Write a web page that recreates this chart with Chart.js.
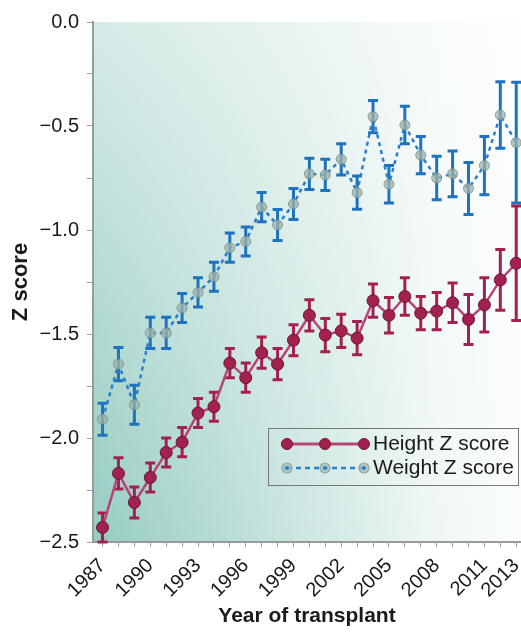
<!DOCTYPE html>
<html>
<head>
<meta charset="utf-8">
<script src="https://cdn.jsdelivr.net/npm/chart.js@4/dist/chart.umd.min.js"></script>
<style>
html,body{margin:0;padding:0;background:#fff;}
#wrap{width:521px;height:633px;position:relative;}
</style>
</head>
<body>
<div id="wrap"><canvas id="c" width="521" height="633"></canvas></div>
<script>
const years = [1987,1988,1989,1990,1991,1992,1993,1994,1995,1996,1997,1998,1999,2000,2001,2002,2003,2004,2005,2006,2007,2008,2009,2010,2011,2012,2013];
const heightZ = [-2.43,-2.17,-2.31,-2.19,-2.07,-2.02,-1.88,-1.85,-1.64,-1.71,-1.59,-1.645,-1.53,-1.41,-1.505,-1.485,-1.52,-1.34,-1.41,-1.32,-1.40,-1.39,-1.35,-1.43,-1.36,-1.24,-1.16];
const heightErr = [0.07,0.075,0.075,0.07,0.07,0.07,0.07,0.07,0.07,0.07,0.075,0.075,0.075,0.075,0.08,0.08,0.08,0.08,0.085,0.09,0.08,0.09,0.095,0.12,0.13,0.146,0.275];
const weightZ = [-1.91,-1.645,-1.84,-1.495,-1.495,-1.375,-1.30,-1.225,-1.085,-1.055,-0.89,-0.976,-0.875,-0.73,-0.735,-0.66,-0.82,-0.455,-0.78,-0.495,-0.64,-0.75,-0.73,-0.80,-0.69,-0.447,-0.58];
const weightErr = [0.077,0.08,0.094,0.075,0.075,0.07,0.07,0.07,0.07,0.07,0.07,0.075,0.075,0.075,0.075,0.075,0.08,0.078,0.09,0.09,0.09,0.105,0.11,0.125,0.14,0.16,0.29];
const xTickLabels = [1987,1990,1993,1996,1999,2002,2005,2008,2011,2013];
const yTickLabels = [0,-0.5,-1.0,-1.5,-2.0,-2.5];

const FONT = "'Liberation Sans', Arial, sans-serif";

const bgPlugin = {
  id:'bg',
  beforeDraw(chart){
    const {ctx, chartArea:a} = chart;
    const w = a.right-a.left, h = a.bottom-a.top;
    ctx.save();
    ctx.fillStyle = '#fbfdfd';
    ctx.fillRect(a.left, a.top, w, h);
    const g = ctx.createLinearGradient(a.left, 0, a.right, 0);
    g.addColorStop(0, 'rgba(150,204,194,1)');
    g.addColorStop(0.45, 'rgba(150,204,194,0.5)');
    g.addColorStop(0.8, 'rgba(150,204,194,0.12)');
    g.addColorStop(1, 'rgba(150,204,194,0)');
    ctx.fillStyle = g;
    ctx.fillRect(a.left, a.top, w, h);
    const v = ctx.createLinearGradient(0, a.top, 0, a.bottom);
    v.addColorStop(0, 'rgba(255,255,255,0.6)');
    v.addColorStop(1, 'rgba(255,255,255,0)');
    ctx.fillStyle = v;
    ctx.fillRect(a.left, a.top, w, h);
    ctx.restore();
  }
};

const errPlugin = {
  id:'err',
  beforeDatasetsDraw(chart){
    const ctx = chart.ctx;
    const xs = chart.scales.x, ys = chart.scales.y;
    const sets = [[weightZ, weightErr, '#1f72bd'],[heightZ, heightErr, '#a3214f']];
    ctx.save();
    for (const [vals, errs, col] of sets){
      ctx.strokeStyle = col;
      ctx.lineWidth = 3;
      for (let i=0;i<years.length;i++){
        const x = xs.getPixelForValue(years[i]);
        const y1 = ys.getPixelForValue(vals[i]+errs[i]);
        const y2 = ys.getPixelForValue(vals[i]-errs[i]);
        ctx.beginPath();
        ctx.moveTo(x,y1); ctx.lineTo(x,y2);
        ctx.moveTo(x-5,y1); ctx.lineTo(x+5,y1);
        ctx.moveTo(x-5,y2); ctx.lineTo(x+5,y2);
        ctx.stroke();
      }
    }
    ctx.restore();
  }
};

const legendPlugin = {
  id:'legbox',
  afterDraw(chart){
    const ctx = chart.ctx;
    const x0 = 268, y0 = 428, w = 250, h = 57;
    ctx.save();
    ctx.strokeStyle = '#777';
    ctx.lineWidth = 1;
    ctx.strokeRect(x0+0.5, y0+0.5, w, h);
    const ly1 = y0+16, ly2 = y0+40;
    ctx.strokeStyle = '#b5467a'; ctx.lineWidth = 3;
    ctx.beginPath(); ctx.moveTo(287, ly1); ctx.lineTo(364, ly1); ctx.stroke();
    for (const px of [287, 325, 364]){
      ctx.beginPath(); ctx.arc(px, ly1, 5.5, 0, Math.PI*2);
      ctx.fillStyle = '#a3214f'; ctx.fill();
      ctx.strokeStyle = '#7a1638'; ctx.lineWidth = 1; ctx.stroke();
    }
    ctx.strokeStyle = '#2a7fc9'; ctx.lineWidth = 2.5; ctx.setLineDash([5,4]);
    ctx.beginPath(); ctx.moveTo(287, ly2); ctx.lineTo(364, ly2); ctx.stroke();
    ctx.setLineDash([]);
    for (const px of [287, 325, 364]){
      ctx.beginPath(); ctx.arc(px, ly2, 5, 0, Math.PI*2);
      ctx.fillStyle = 'rgba(170,190,185,0.8)'; ctx.fill();
      ctx.strokeStyle = '#8fa7a0'; ctx.lineWidth = 1.2; ctx.stroke();
      ctx.beginPath(); ctx.arc(px, ly2, 2, 0, Math.PI*2);
      ctx.fillStyle = '#2a7fc9'; ctx.fill();
    }
    ctx.fillStyle = '#1a1a1a';
    ctx.font = '21px ' + FONT;
    ctx.textBaseline = 'middle';
    ctx.textAlign = 'left';
    ctx.fillText('Height Z score', 373, ly1);
    ctx.fillText('Weight Z score', 373, ly2);
    ctx.restore();
  }
};

new Chart(document.getElementById('c'), {
  type:'line',
  data:{
    datasets:[
      {
        label:'Height Z score',
        data: years.map((y,i)=>({x:y, y:heightZ[i]})),
        borderColor:'#b5467a',
        borderWidth:2.5,
        pointRadius:6,
        pointBackgroundColor:'#a3214f',
        pointBorderColor:'#6e1535',
        pointBorderWidth:1,
        tension:0,
        order:1
      },
      {
        label:'Weight Z score',
        data: years.map((y,i)=>({x:y, y:weightZ[i]})),
        borderColor:'#2a7fc9',
        borderWidth:2.5,
        borderDash:[4,4],
        pointRadius:5,
        pointBackgroundColor:'rgba(160,180,172,0.75)',
        pointBorderColor:'rgba(120,140,130,0.8)',
        pointBorderWidth:1,
        tension:0,
        order:2
      }
    ]
  },
  options:{
    responsive:false,
    animation:false,
    layout:{autoPadding:false, padding:{top:22, right:0, left:0, bottom:0}},
    plugins:{legend:{display:false}, tooltip:{enabled:false}},
    scales:{
      x:{
        type:'linear',
        min:1986.4, max:2013.3,
        afterBuildTicks(scale){
          const t=[]; for(let y=1987;y<=2013;y++) t.push({value:y});
          scale.ticks = t;
        },
        afterFit(scale){ scale.height = 91; scale.paddingLeft = 0; scale.paddingRight = 0; },
        ticks:{
          autoSkip:false,
          maxRotation:45, minRotation:45,
          color:'#1a1a1a',
          font:{family:FONT, size:20},
          padding:7,
          callback:(v)=> xTickLabels.includes(v) ? String(v) : ''
        },
        grid:{drawOnChartArea:false, drawTicks:true, tickLength:5, color:'#9a9a9a', tickColor:'#9a9a9a'},
        border:{color:'#9a9a9a', width:2},
        title:{display:true, text:'Year of transplant', color:'#1a1a1a', font:{family:FONT, size:21, weight:'bold'}, padding:{top:0,bottom:4}}
      },
      y:{
        min:-2.5, max:0,
        afterBuildTicks(scale){
          const t=[]; for(let v=0; v>=-2.5-1e-9; v-=0.25) t.push({value:Math.round(v*100)/100});
          scale.ticks = t;
        },
        afterFit(scale){ scale.width = 93; },
        ticks:{
          color:'#1a1a1a',
          font:{family:FONT, size:20},
          padding:8,
          callback:(v)=>{
            const m = yTickLabels.find(l=>Math.abs(l-v)<1e-6);
            if (m===undefined) return '';
            return (m===0?'0.0':'\u2212'+Math.abs(m).toFixed(1));
          }
        },
        grid:{drawOnChartArea:false, drawTicks:true, tickLength:6, color:'#9a9a9a', tickColor:'#b09a9a'},
        border:{color:'#9a9a9a', width:2},
        title:{display:true, text:'Z score', color:'#1a1a1a', font:{family:FONT, size:22, weight:'bold'}, padding:{top:8,bottom:0}}
      }
    }
  },
  plugins:[bgPlugin, errPlugin, legendPlugin]
});
</script>
</body>
</html>
